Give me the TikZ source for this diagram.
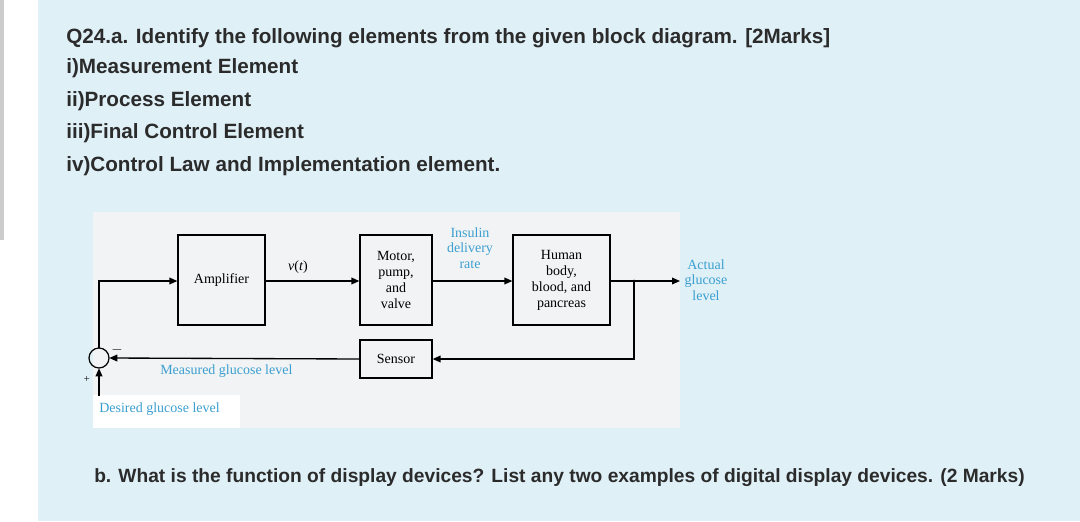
\documentclass[tikz,border=0pt]{standalone}
\usepackage{fontspec}
\setmainfont{Liberation Serif}
\setsansfont{Liberation Sans}
\usetikzlibrary{arrows.meta}
\definecolor{panel}{HTML}{DFF0F7}
\definecolor{dg}{HTML}{F1F3F4}
\definecolor{lb}{HTML}{3C9FD0}
\definecolor{tx}{HTML}{2B2B2B}
\begin{document}
\begin{tikzpicture}[x=0.75pt,y=-0.75pt,
  q/.style={anchor=west,font=\sffamily\bfseries\fontsize{15.5}{17}\selectfont,text=tx,inner sep=0},
  blk/.style={draw,line width=0.9pt,align=center,inner sep=0,font=\fontsize{10.5}{12}\selectfont},
  lbl/.style={align=center,font=\fontsize{10.5}{11.5}\selectfont,inner sep=0},
  ar/.style={line width=1pt,-{Triangle[length=6pt,width=5pt]}}]
\useasboundingbox (0,0) rectangle (1080,521);
\fill[white] (0,0) rectangle (1080,521);
\fill[panel] (38,0) rectangle (1080,521);
\fill[gray!40] (0,0) rectangle (4,240);
\fill[dg] (93,212) rectangle (680,428);
\fill[white] (93,395) rectangle (240,428);
\node[q] (t1) at (66,38) {Q24.a. Identify the following elements from the given block diagram. [2Marks]};
\node[q] (t2) at (66,68) {i)Measurement Element};
\node[q] (t3) at (66,101) {ii)Process Element};
\node[q] (t4) at (66,133) {iii)Final Control Element};
\node[q] (t5) at (66,166) {iv)Control Law and Implementation element.};
\node[q,font=\sffamily\bfseries\fontsize{14.4}{16}\selectfont] (t6) at (94,478) {b. What is the function of display devices? List any two examples of digital display devices. (2 Marks)};
\node[blk,minimum width=65.25pt,minimum height=67.5pt] (amp) at (221.5,280) {Amplifier};
\node[blk,minimum width=54pt,minimum height=67.5pt] (mot) at (396,280) {Motor,\\pump,\\and\\valve};
\node[blk,minimum width=72.75pt,minimum height=67.5pt] (hum) at (561.5,280) {Human\\body,\\blood, and\\pancreas};
\node[blk,minimum width=54pt,minimum height=28.5pt] (sen) at (396,359) {Sensor};
\draw[line width=0.9pt] (99,358) circle (10);
\node[inner sep=0,minimum size=15pt] (s) at (99,358) {};
\coordinate (j) at (634,281);
\coordinate (out) at (680,281);
\coordinate (d0) at (99,396);
\draw[ar] (s.north) |- (amp.west|-0,281);
\draw[ar] (amp.east|-0,281) -- (mot.west|-0,281);
\draw[ar] (mot.east|-0,281) -- (hum.west|-0,281);
\draw[ar] (hum.east|-0,281) -- (out);
\fill (j) circle (1.5);
\draw[ar] (j) |- (sen.east);
\draw[ar] (sen.west) -- (s.east);
\draw[ar] (d0) -- (s.south);
\node[lbl] (vt) at (298,267) {\textit{v}(\textit{t})};
\node[lbl,text=lb] (ins) at (470,248) {Insulin\\delivery\\rate};
\node[lbl,text=lb] (act) at (706,280) {Actual\\glucose\\level};
\node[lbl,text=lb,anchor=west] (mg) at (160,371) {Measured glucose level};
\node[lbl,text=lb,anchor=west] (dg) at (99,409) {Desired glucose level};
\node[lbl] (mi) at (117,350) {$-$};
\node[lbl,font=\fontsize{8}{9}\selectfont] (pl) at (87,379) {+};
\end{tikzpicture}
\end{document}
